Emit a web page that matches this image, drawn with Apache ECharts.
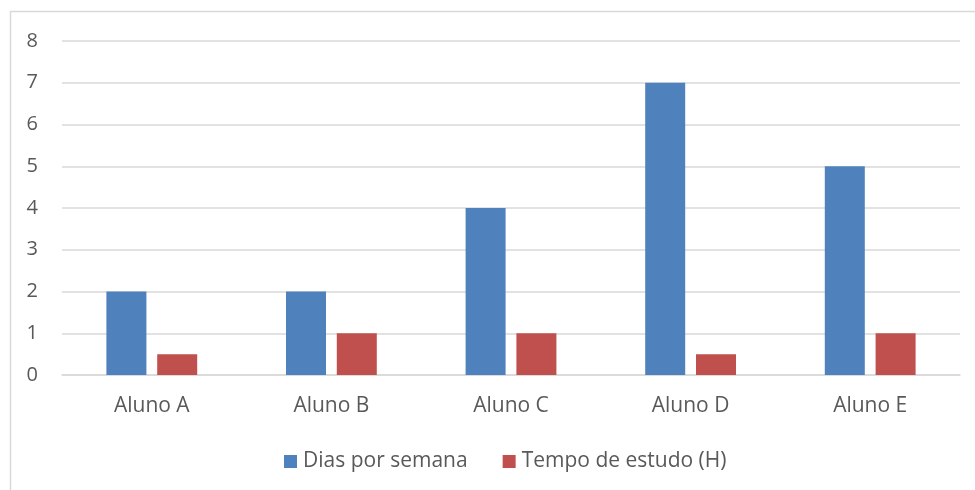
<!DOCTYPE html>
<html>
<head>
<meta charset="utf-8">
<script src="https://cdn.jsdelivr.net/npm/echarts@6/dist/echarts.min.js"></script>
<style>
  html, body { margin: 0; padding: 0; background: #fff; }
  #chart { width: 975px; height: 490px; }
</style>
</head>
<body>
<div id="chart"></div>
<script>
const categories = ['Aluno A', 'Aluno B', 'Aluno C', 'Aluno D', 'Aluno E']
const diasPorSemana = [2, 2, 4, 7, 5]
const tempoEstudo = [0.5, 1, 1, 0.5, 1]
const seriesNames = ['Dias por semana', 'Tempo de estudo (H)']

const textColor = '#595959'
const lineColor = '#d9d9d9'
const font = '"Open Sans", sans-serif'

const chart = echarts.init(document.getElementById('chart'), null, { renderer: 'canvas' })

chart.setOption({
  animation: false,
  textStyle: { fontFamily: font },
  graphic: [
    {
      type: 'rect',
      shape: { x: 10.5, y: 11.5, width: 980, height: 500 },
      style: { fill: 'none', stroke: lineColor, lineWidth: 1.5 }
    }
  ],
  grid: { left: 62, right: 15, top: 41, bottom: 115 },
  legend: {
    bottom: 13,
    left: 279,
    itemWidth: 13,
    itemHeight: 13,
    itemGap: 35,
    icon: 'rect',
    textStyle: { color: textColor, fontSize: 21, fontFamily: font, padding: [0, 0, 0, 1] },
    data: seriesNames
  },
  xAxis: {
    type: 'category',
    data: categories,
    axisLine: { lineStyle: { color: lineColor, width: 1.5 } },
    axisTick: { show: false },
    axisLabel: { color: textColor, fontSize: 21, margin: 21 }
  },
  yAxis: {
    type: 'value',
    min: 0,
    max: 8,
    interval: 1,
    axisLine: { show: false },
    axisTick: { show: false },
    axisLabel: { color: textColor, fontSize: 20, margin: 24 },
    splitLine: { lineStyle: { color: lineColor, width: 1.5 } }
  },
  series: [
    {
      name: seriesNames[0],
      type: 'bar',
      data: diasPorSemana,
      barWidth: 40,
      barGap: '27%',
      itemStyle: { color: '#4F81BD' }
    },
    {
      name: seriesNames[1],
      type: 'bar',
      data: tempoEstudo,
      barWidth: 40,
      itemStyle: { color: '#C0504D' }
    }
  ]
})
</script>
</body>
</html>
